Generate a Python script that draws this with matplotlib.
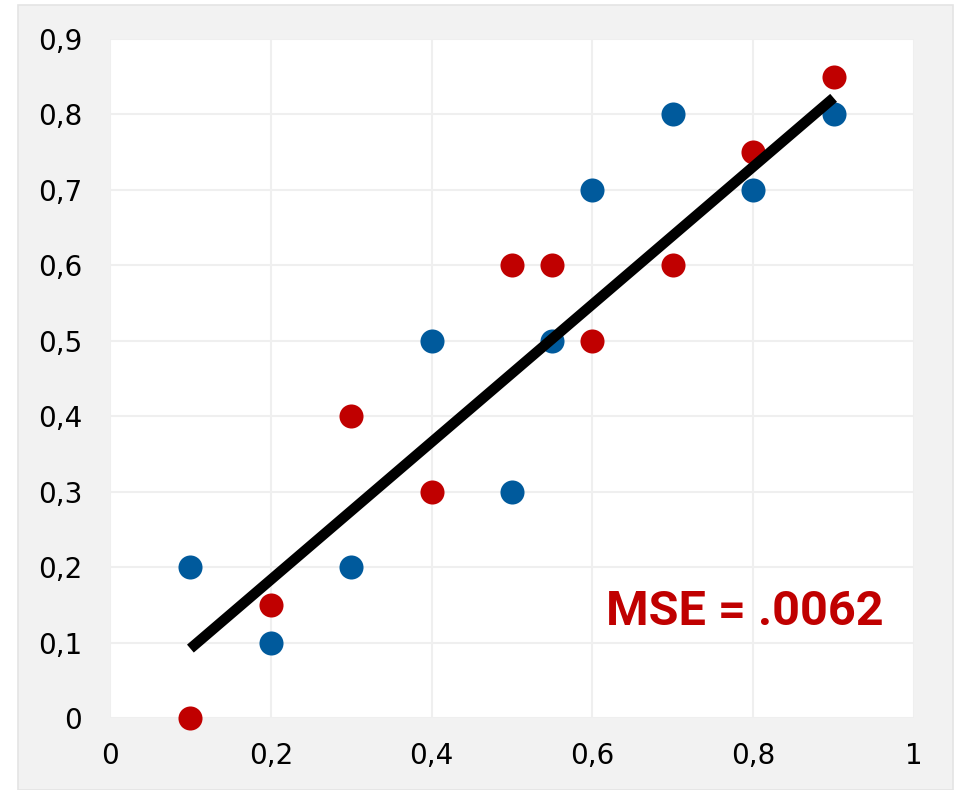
import matplotlib
matplotlib.use("Agg")
import matplotlib.pyplot as plt
from matplotlib.patches import Rectangle

blue_x = [0.1, 0.2, 0.3, 0.4, 0.5, 0.55, 0.6, 0.7, 0.8, 0.9]
blue_y = [0.2, 0.1, 0.2, 0.5, 0.3, 0.5, 0.7, 0.8, 0.7, 0.8]
red_x = [0.1, 0.2, 0.3, 0.4, 0.5, 0.55, 0.6, 0.7, 0.8, 0.9]
red_y = [0.0, 0.15, 0.4, 0.3, 0.6, 0.6, 0.5, 0.6, 0.75, 0.85]
line_x = [0.1, 0.9]
line_y = [0.092, 0.822]
x_ticks = [0, 0.2, 0.4, 0.6, 0.8, 1.0]
x_labels = ["0", "0,2", "0,4", "0,6", "0,8", "1"]
y_ticks = [0, 0.1, 0.2, 0.3, 0.4, 0.5, 0.6, 0.7, 0.8, 0.9]
y_labels = ["0", "0,1", "0,2", "0,3", "0,4", "0,5", "0,6", "0,7", "0,8", "0,9"]
annotation = "MSE = .0062"

plt.rcParams["font.family"] = ["DejaVu Sans"]

W, H = 957, 790
fig = plt.figure(figsize=(W / 100, H / 100), dpi=100, facecolor="white")
bg = Rectangle((18 / W, 0), (953 - 18) / W, (H - 5) / H,
               transform=fig.transFigure, facecolor="#f2f2f2",
               edgecolor="#e4e4e4", linewidth=1.2, zorder=-10)
fig.add_artist(bg)

ax = fig.add_axes([110 / W, (H - 718) / H, (914 - 110) / W, (718 - 39) / H])
ax.set_zorder(1)
ax.set_facecolor("white")
ax.set_xlim(0, 1)
ax.set_ylim(0, 0.9)
for s in ax.spines.values():
    s.set_visible(False)
ax.set_xticks(x_ticks)
ax.set_xticklabels(x_labels)
ax.set_yticks(y_ticks)
ax.set_yticklabels(y_labels)
ax.tick_params(length=0, labelsize=20, colors="black")
ax.tick_params(axis="y", pad=20)
ax.tick_params(axis="x", pad=17)
ax.grid(True, color="#efefef", linewidth=1.5)
ax.set_axisbelow(True)

ax.scatter(blue_x, blue_y, s=300, color="#005a9c", linewidths=0, zorder=3, clip_on=False)
ax.scatter(red_x, red_y, s=300, color="#c00000", linewidths=0, zorder=3, clip_on=False)
ax.plot(line_x, line_y, color="black", linewidth=7.5, solid_capstyle="butt", zorder=4)

ax.text(0.9627, 0.141, annotation, transform=ax.transData, ha="right", va="center",
        fontsize=35, fontweight="bold", color="#c00000", family=["Roboto", "DejaVu Sans"])

fig.savefig("out.png", dpi=100, facecolor=fig.get_facecolor())
